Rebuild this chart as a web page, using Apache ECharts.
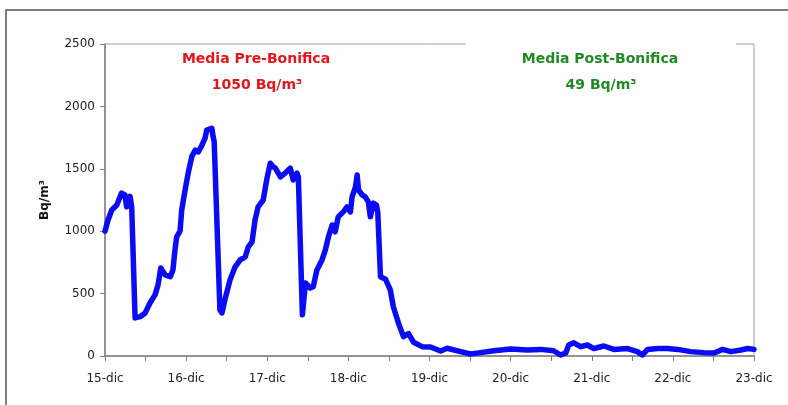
<!DOCTYPE html>
<html>
<head>
<meta charset="utf-8">
<script src="https://cdn.jsdelivr.net/npm/echarts@6/dist/echarts.min.js"></script>
<style>
  html, body { margin: 0; padding: 0; background: #fff; }
  #chart { width: 788px; height: 405px; }
</style>
</head>
<body>
<div id="chart"></div>
<script>
// hours since 15-dic 00:00
const hours = [0, 0.9, 2.0, 3.5, 4.9, 5.9, 6.4, 7.4, 7.9, 8.9, 10.4, 11.9, 13.3, 14.8, 15.7, 16.5, 17.8, 19.3, 20.1, 20.7,
  21.2, 22.2, 22.7, 23.7, 24.6, 25.7, 26.7, 27.6, 28.7, 29.6, 30.1, 31.6, 32.0, 32.3, 34.0, 34.6, 35.6, 37.0, 38.5, 40.0,
  41.5, 42.4, 43.5, 44.4, 45.3, 46.8, 47.9, 48.9, 49.8, 50.4, 51.9, 53.3, 54.2, 54.8, 55.7, 56.8, 57.2, 58.4, 59.3, 60.7,
  61.6, 62.7, 64.2, 65.2, 66.1, 67.2, 68.1, 69.0, 70.5, 71.6, 72.6, 73.1, 74.1, 74.6, 75.0, 76.1, 77.0, 77.9, 78.5, 79.4,
  80.3, 80.7, 81.5, 83.0, 84.4, 85.3, 86.8, 88.3, 89.8, 91.3, 93.8, 96.3, 99.3, 101.2, 105.2, 108.1, 111.1, 115.0, 120.0, 124.9,
  128.9, 132.7, 134.8, 136.3, 137.2, 138.7, 140.7, 142.7, 144.6, 147.6, 150.5, 154.6, 157.5, 159.0, 160.5, 163.5, 166.4, 169.4, 173.3, 177.2,
  180.2, 182.7, 185.2, 188.1, 190.1, 192];
const radon = [1000, 1090, 1170, 1210, 1305, 1290, 1195, 1280, 1195, 305, 315, 345, 425, 490, 570, 705, 650, 635, 690, 850,
  955, 1000, 1170, 1330, 1465, 1600, 1650, 1635, 1690, 1745, 1810, 1825, 1755, 1720, 370, 345, 465, 610, 715, 770,
  795, 875, 915, 1090, 1195, 1250, 1420, 1545, 1515, 1505, 1435, 1465, 1490, 1505, 1410, 1465, 1435, 330, 585, 545,
  555, 690, 770, 850, 955, 1050, 995, 1115, 1155, 1195, 1155, 1275, 1355, 1450, 1330, 1290, 1275, 1235, 1115, 1225,
  1210, 1150, 635, 615, 530, 395, 265, 155, 180, 110, 75, 72, 40, 62, 35, 16, 27, 42, 56, 48,
  53, 42, 8, 24, 88, 106, 75, 88, 60, 80, 53, 60, 35, 8, 53, 60, 60, 53, 35, 27,
  24, 53, 35, 48, 60, 53];
const dayLabels = ['15-dic', '16-dic', '17-dic', '18-dic', '19-dic', '20-dic', '21-dic', '22-dic', '23-dic'];
const yTicks = [0, 500, 1000, 1500, 2000, 2500];

const chart = echarts.init(document.getElementById('chart'), null, { renderer: 'canvas' });
const font = 'Tahoma, "DejaVu Sans", Verdana, sans-serif';

const option = {
  animation: false,
  backgroundColor: '#fff',
  grid: { left: 105, top: 44, right: 34, bottom: 49, show: true, borderColor: '#a0a0a0', borderWidth: 1 },
  xAxis: {
    type: 'value',
    min: 0, max: 192, interval: 12,
    axisLine: { lineStyle: { color: '#808080', width: 1.5 } },
    axisTick: { show: true, length: 5, lineStyle: { color: '#808080' } },
    splitLine: { show: false },
    axisLabel: {
      color: '#222', fontSize: 12, fontFamily: font, margin: 17, showMaxLabel: true, showMinLabel: true,
      formatter: v => (v % 24 === 0 ? dayLabels[v / 24] : '')
    }
  },
  yAxis: {
    type: 'value',
    min: yTicks[0], max: yTicks[yTicks.length - 1], interval: 500,
    name: 'Bq/m³', nameLocation: 'middle', nameGap: 54, nameRotate: 90,
    nameTextStyle: { color: '#111', fontSize: 12, fontWeight: 'bold', fontFamily: font },
    axisLine: { show: true, lineStyle: { color: '#808080', width: 1.5 } },
    axisTick: { show: true, length: 5, lineStyle: { color: '#808080' } },
    splitLine: { show: false },
    axisLabel: { color: '#222', fontSize: 12, fontFamily: font, margin: 10, formatter: v => String(v) }
  },
  series: [{
    type: 'line',
    data: hours.map((h, i) => [h, radon[i]]),
    showSymbol: false,
    clip: false,
    lineStyle: { color: '#0b0bf5', width: 5.5, join: 'round', cap: 'round' }
  }],
  graphic: [
    { type: 'rect', shape: { x: 6, y: 10, width: 800, height: 420 }, style: { fill: 'none', stroke: '#555', lineWidth: 1.5 }, z: 100 },
    { type: 'rect', shape: { x: 466, y: 42, width: 270, height: 4 }, style: { fill: '#fff' }, z: 100 },
    { type: 'text', x: 256, y: 59, style: { text: 'Media Pre-Bonifica', fill: '#e8141c', font: 'bold 14px ' + font, align: 'center', verticalAlign: 'middle' }, z: 101 },
    { type: 'text', x: 257, y: 85, style: { text: '1050 Bq/m³', fill: '#e8141c', font: 'bold 14px ' + font, align: 'center', verticalAlign: 'middle' }, z: 101 },
    { type: 'text', x: 600, y: 59, style: { text: 'Media Post-Bonifica', fill: '#1f8a24', font: 'bold 14px ' + font, align: 'center', verticalAlign: 'middle' }, z: 101 },
    { type: 'text', x: 601, y: 85, style: { text: '49 Bq/m³', fill: '#1f8a24', font: 'bold 14px ' + font, align: 'center', verticalAlign: 'middle' }, z: 101 }
  ]
};
chart.setOption(option);
</script>
</body>
</html>
